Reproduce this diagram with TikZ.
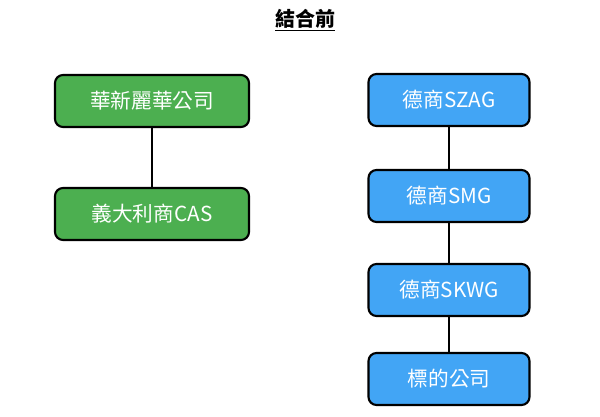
\documentclass[tikz,border=0pt]{standalone}
\usepackage{fontspec}
\setmainfont{Noto Sans CJK TC}
\definecolor{lgreen}{HTML}{4CAF50}
\definecolor{lblue}{HTML}{42A5F5}
\tikzset{
  box/.style={draw=black, line width=1.6pt, rounded corners=6pt, minimum height=52*0.75pt, text=white, font=\fontsize{15.5}{18}\selectfont},
  greenbox/.style={box, fill=lgreen, minimum width=194*0.75pt},
  bluebox/.style={box, fill=lblue, minimum width=161*0.75pt},
  link/.style={line width=1.6pt}
}
\begin{document}
\begin{tikzpicture}[x=0.75pt,y=-0.75pt]
  \useasboundingbox (0,0) rectangle (600,417);
  \node (title) at (305,20) {\fontsize{15}{17}\selectfont\bfseries\underline{結合前}};
  % left group
  \node[greenbox] (hx) at (152,101) {華新麗華公司};
  \node[greenbox] (cas) at (152,214) {義大利商CAS};
  \draw[link] (hx) -- (cas);
  % right group
  \node[bluebox] (szag) at (449,100) {德商SZAG};
  \node[bluebox] (smg) at (449,196) {德商SMG};
  \node[bluebox] (skwg) at (449,290) {德商SKWG};
  \node[bluebox] (target) at (449,379) {標的公司};
  \draw[link] (szag) -- (smg);
  \draw[link] (smg) -- (skwg);
  \draw[link] (skwg) -- (target);
\end{tikzpicture}
\end{document}
